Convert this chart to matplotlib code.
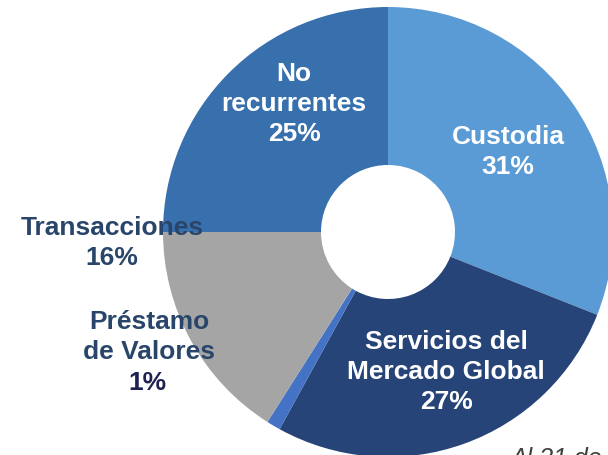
import matplotlib
matplotlib.use("Agg")
import matplotlib.pyplot as plt

# Revenue mix, clockwise from 12 o'clock
segments = ["Custodia", "Servicios del\nMercado Global", "Préstamo\nde Valores",
            "Transacciones", "No\nrecurrentes"]
shares = [31, 27, 1, 16, 25]
colors = ["#5B9BD5", "#264478", "#4472C4", "#A5A5A5", "#386FAD"]

# label anchors in pixel space (x, y from top) and text colours
label_pos = [(508, 152), (446, 372), (149, 352), (112, 243), (294, 104)]
label_color = ["white", "white", "#29466A", "#29466A", "white"]

W, H = 608, 456
fig = plt.figure(figsize=(W / 100, H / 100), dpi=100)
ax = fig.add_axes([0, 0, 1, 1])
ax.axis("off")

cx, cy, r, hole = 388, 233, 225, 67
ax.pie(shares, colors=colors, startangle=90, counterclock=False,
       center=(cx, H - cy), radius=r,
       wedgeprops=dict(width=r - hole, linewidth=0))
ax.set_xlim(0, W)
ax.set_ylim(0, H)
ax.set_aspect("equal")

font = "Liberation Sans"
ls = 1.32
for name, val, (x, y), col in zip(segments, shares, label_pos, label_color):
    if name.startswith("Préstamo"):
        # the percentage here is a darker navy in the original
        ax.text(x, H - (y - 15), name, ha="center", va="center", fontsize=19,
                fontweight="bold", color=col, family=font, linespacing=ls)
        ax.text(x - 2, H - (y + 31), f"{val}%", ha="center", va="center",
                fontsize=19, fontweight="bold", color="#1F2152", family=font)
        continue
    ax.text(x, H - y, f"{name}\n{val}%", ha="center", va="center", fontsize=19,
            fontweight="bold", color=col, family=font, linespacing=ls)

ax.text(510, H - 447, "Al 31 de diciembre", ha="left", va="top", fontsize=18,
        style="italic", color="#404040", family=font)

fig.savefig("out.png", dpi=100)
